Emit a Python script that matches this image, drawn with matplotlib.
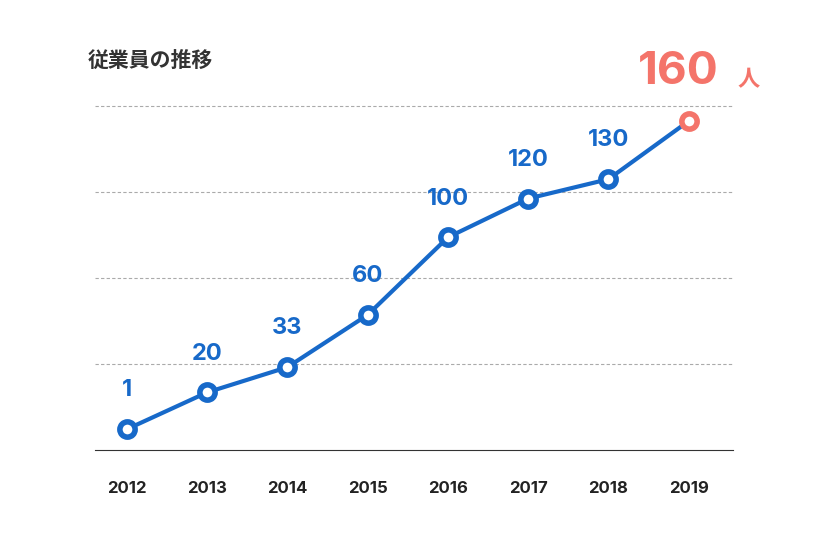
import matplotlib
matplotlib.use("Agg")
import matplotlib.pyplot as plt

years = [2012, 2013, 2014, 2015, 2016, 2017, 2018, 2019]
employees = [1, 20, 33, 60, 100, 120, 130, 160]
grid_vals = [34.6, 79.0, 123.4, 167.9]

blue = "#1769c9"
coral = "#f4746a"
plt.rcParams["font.family"] = ["Inter", "Noto Sans CJK JP"]

fig = plt.figure(figsize=(8.17, 5.43), dpi=100)
ax = fig.add_axes([0.116, 0.171, 0.781, 0.645])
ax.set_xlim(2011.6, 2019.55)
ax.set_ylim(-9.8, 170.9)
for g in grid_vals:
    ax.axhline(g, color="#aaaaaa", lw=0.8, ls=(0, (3, 2)), zorder=0)
ax.plot(years, employees, color=blue, lw=3, zorder=2)
ax.plot(years[:-1], employees[:-1], "o", ms=11, mfc="white", mec=blue, mew=4, zorder=3)
ax.plot(years[-1:], employees[-1:], "o", ms=11, mfc="white", mec=coral, mew=4, zorder=3)
for x, v in zip(years[:-1], employees[:-1]):
    ax.annotate(str(v), (x, v), xytext=(0, 20), textcoords="offset points",
                ha="center", va="bottom", color=blue, fontsize=17, fontweight="bold")
for s in ["top", "right", "left"]:
    ax.spines[s].set_visible(False)
ax.spines["bottom"].set_color("#333333")
ax.set_yticks([])
ax.set_xticks(years)
ax.set_xticklabels([str(y) for y in years], fontsize=12, fontweight="bold", color="#222222")
ax.tick_params(axis="x", length=0, pad=22)
fig.text(88/817, 1-60/543, "従業員の推移", fontsize=15, fontweight="bold", color="#333333",
         va="center", family="Noto Sans CJK JP")
fig.text(638/817, 1-72/543, "160", fontsize=33, fontweight="bold", color=coral, va="center")
fig.text(738/817, 1-80/543, "人", fontsize=16, fontweight="bold", color=coral, va="center",
         family="Noto Sans CJK JP")
fig.savefig("out.png", dpi=100)
